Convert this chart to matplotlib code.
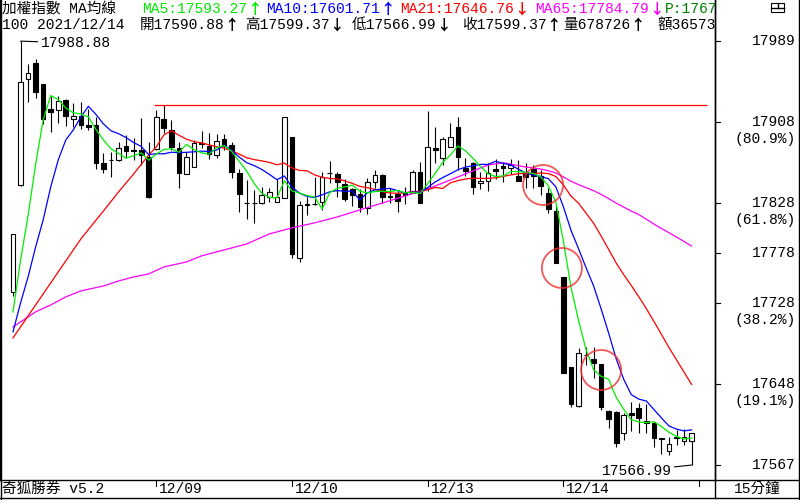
import numpy as np
import matplotlib
matplotlib.use("Agg")
import matplotlib.pyplot as plt
from matplotlib.patches import Ellipse, Rectangle
from matplotlib.lines import Line2D
from matplotlib.transforms import blended_transform_factory

plt.rcParams['font.family'] = ['Liberation Mono', 'Noto Sans CJK TC', 'DejaVu Sans']

# 15-minute bars, 2021/12/08 .. 2021/12/14
opens = [17739.3, 17845.7, 17951.2, 17967.1, 17946.2, 17921.3, 17920.4, 17930.3, 17911.4, 17914.4,
         17905.4, 17905.4, 17867.6, 17870.6, 17870.6, 17884.5, 17880.6, 17880.6, 17873.6, 17881.5,
         17911.4, 17900.5, 17882.5, 17856.7, 17863.6, 17887.5, 17884.5, 17875.6, 17891.5, 17885.5,
         17857.7, 17827.8, 17827.8, 17827.8, 17833.8, 17828.8, 17832.8, 17893.5, 17773.1, 17826.8,
         17826.8, 17828.8, 17857.7, 17856.7, 17846.7, 17841.7, 17836.8, 17822.8, 17848.7, 17855.7,
         17834.8, 17836.8, 17837.8, 17837.8, 17858.7, 17842.7, 17882.5, 17872.6, 17883.5, 17903.4,
         17862.6, 17867.6, 17847.7, 17849.7, 17861.6, 17864.6, 17862.6, 17854.7, 17857.7, 17861.6,
         17854.7, 17837.8, 17819.9, 17754.2, 17664.6, 17625.8, 17676.6, 17672.6, 17667.6, 17620.9,
         17619.9, 17599.0, 17618.9, 17623.8, 17610.9, 17608.9, 17594.0, 17581.1, 17595.0, 17591.0,
         17590.88]
highs = [17797.0, 17988.88, 17966.1, 17971.1, 17946.2, 17934.3, 17934.3, 17931.3, 17927.3, 17928.3,
         17921.3, 17913.4, 17877.6, 17878.6, 17888.5, 17895.5, 17892.5, 17912.4, 17888.5, 17920.4,
         17925.3, 17910.4, 17888.5, 17878.6, 17890.5, 17899.5, 17897.5, 17896.5, 17896.5, 17888.5,
         17861.6, 17850.7, 17840.7, 17843.7, 17842.7, 17851.7, 17913.4, 17893.5, 17829.8, 17833.8,
         17853.7, 17858.7, 17869.6, 17858.7, 17851.7, 17842.7, 17841.7, 17852.7, 17860.7, 17856.7,
         17842.7, 17839.7, 17843.7, 17860.7, 17868.6, 17919.4, 17903.4, 17893.5, 17907.4, 17913.4,
         17872.6, 17868.6, 17858.7, 17867.6, 17871.6, 17868.6, 17871.6, 17870.6, 17867.6, 17865.6,
         17860.7, 17842.7, 17825.8, 17754.2, 17664.6, 17683.5, 17684.5, 17684.5, 17667.6, 17621.8,
         17620.9, 17618.9, 17629.8, 17628.8, 17627.8, 17609.9, 17594.0, 17595.0, 17602.0, 17603.0,
         17599.37]
lows = [17735.3, 17845.0, 17928.3, 17932.3, 17906.4, 17898.5, 17907.4, 17904.4, 17903.4, 17901.5,
        17900.5, 17861.6, 17857.7, 17853.7, 17869.6, 17872.6, 17870.6, 17865.6, 17832.8, 17880.6,
        17897.5, 17880.6, 17842.7, 17856.7, 17863.6, 17882.5, 17871.6, 17872.6, 17880.6, 17852.7,
        17818.9, 17811.9, 17807.9, 17826.8, 17828.8, 17828.8, 17832.8, 17773.1, 17769.1, 17815.9,
        17825.8, 17820.9, 17847.7, 17833.8, 17829.8, 17824.8, 17818.9, 17816.9, 17842.7, 17827.8,
        17827.8, 17818.9, 17826.8, 17837.8, 17827.8, 17839.7, 17867.6, 17865.6, 17883.5, 17860.7,
        17854.7, 17836.8, 17841.7, 17839.7, 17851.7, 17848.7, 17856.7, 17849.7, 17842.7, 17842.7,
        17835.8, 17817.9, 17768.1, 17658.7, 17624.8, 17624.8, 17666.6, 17653.7, 17621.8, 17603.9,
        17585.0, 17592.0, 17601.0, 17599.0, 17599.0, 17585.0, 17578.1, 17577.0, 17587.0, 17587.0,
        17566.99]
closes = [17797.0, 17948.2, 17957.2, 17938.3, 17911.4, 17918.4, 17929.3, 17914.4, 17914.4, 17905.4,
          17903.4, 17867.6, 17861.6, 17870.6, 17882.5, 17879.6, 17880.0, 17875.6, 17833.8, 17913.4,
          17902.4, 17883.5, 17857.7, 17873.6, 17887.5, 17886.5, 17876.6, 17889.5, 17884.5, 17858.7,
          17836.8, 17827.8, 17827.8, 17835.8, 17838.8, 17833.8, 17913.4, 17777.1, 17825.8, 17825.8,
          17826.8, 17853.7, 17857.7, 17848.7, 17831.8, 17835.8, 17823.8, 17848.7, 17855.7, 17833.8,
          17833.8, 17829.8, 17835.8, 17858.7, 17827.8, 17883.5, 17880.6, 17891.5, 17893.5, 17873.6,
          17859.7, 17843.7, 17849.7, 17857.7, 17859.7, 17862.6, 17865.6, 17849.7, 17853.7, 17854.7,
          17844.7, 17821.8, 17768.1, 17658.7, 17627.8, 17678.6, 17676.6, 17668.6, 17624.8, 17612.9,
          17589.0, 17616.9, 17616.9, 17613.9, 17608.9, 17594.0, 17593.0, 17588.0, 17594.0, 17595.0,
          17599.37]

day_ticks = [19, 37, 55, 73, 91]
day_labels = ["12/09", "12/10", "12/13", "12/14", ""]

# moving-average values before enough bars are on screen
ma5_head = [17719.4, 17770.8, 17815.2, 17866.3]
ma10_head = [17699.5, 17728.3, 17754.2, 17784.0, 17810.9, 17843.7, 17870.6, 17890.5, 17900.5]
ma21_head_idx = [0, 3, 6, 9, 12, 14, 16, 18, 19]
ma21_head = [17693.5, 17726.3, 17759.2, 17792.0, 17819.9, 17838.8, 17856.7, 17875.6, 17883.5]
ma65_head_idx = [0, 3, 5, 7, 9, 12, 14, 16, 18, 20, 23, 25, 28, 31, 34, 37, 40, 43, 46, 49,
                 52, 55, 58, 61, 63]
ma65_head = [17704.4, 17719.4, 17726.3, 17734.3, 17740.3, 17745.2, 17750.2, 17754.2, 17757.2,
             17764.1, 17769.1, 17775.1, 17781.1, 17787.0, 17797.0, 17803.0, 17808.0, 17813.9,
             17820.9, 17827.8, 17834.8, 17841.7, 17850.7, 17859.7, 17865.6]

fib_ratios = [1.0, 0.809, 0.618, 0.5, 0.382, 0.191, 0.0]
fib_notes = ["", "(80.9%)", "(61.8%)", "", "(38.2%)", "(19.1%)", ""]

# hand drawn red circles (bar index, price)
circle_marks = [(70.3, 17845.7), (72.8, 17763.1), (78.0, 17661.6)]

# header pieces: text, arrow, colour, left pixel
header1 = [("加權指數 MA均線", "", "black", 2), ("MA5:17593.27", "↑", "#00e600", 142),
           ("MA10:17601.71", "↑", "#0000ff", 266), ("MA21:17646.76", "↓", "#ff0000", 400),
           ("MA65:17784.79", "↓", "#ff00ff", 535), ("P:17673", "", "#008000", 665)]
header2 = [("100 2021/12/14", "", 2), ("開17590.88", "↑", 140), ("高17599.37", "↓", 245),
           ("低17566.99", "↓", 352), ("收17599.37", "↑", 462), ("量678726", "↑", 563),
           ("額3657321", "", 657)]


def rolling_mean(vals, n):
    return np.convolve(vals, np.ones(n) / n, mode='valid')


o = np.array(opens)
h = np.array(highs)
l = np.array(lows)
c = np.array(closes)
idx = np.arange(len(c))

fig = plt.figure(figsize=(8, 5), dpi=100)
fig.patch.set_facecolor('white')
ax = fig.add_axes([0, 20 / 500, 715 / 800, 480 / 500])
step = 7.54
ax.set_xlim(-13 / step, (715 - 13) / step)
ax.set_ylim(17552.1, 18029.8)
ppp = (18029.8 - 17552.1) / 480  # price per pixel
ax.set_xticks([])
ax.set_yticks([])
ax.spines['top'].set_visible(False)
for s in ['left', 'right', 'bottom']:
    ax.spines[s].set_linewidth(1.0)

# candles
up = c >= o
ax.vlines(idx, l, h, color='black', lw=0.8, zorder=2)
ax.bar(idx, np.abs(c - o), bottom=np.minimum(o, c), width=0.62,
       color=np.where(up, 'white', 'black'), edgecolor='black', linewidth=0.8, zorder=3)

# moving averages
ma5 = np.r_[ma5_head, rolling_mean(c, 5)]
ma10 = np.r_[ma10_head, rolling_mean(c, 10)]
ma21_x = ma21_head_idx + list(range(20, len(c)))
ma21 = np.r_[ma21_head, rolling_mean(c, 21)]
ma65_x = ma65_head_idx + list(range(64, len(c)))
ma65 = np.r_[ma65_head, rolling_mean(c, 65)]
ax.plot(ma65_x, ma65, color='#ff00ff', lw=0.9, zorder=4)
ax.plot(ma21_x, ma21, color='#ff0000', lw=0.9, zorder=4)
ax.plot(idx, ma10, color='#0000ff', lw=0.9, zorder=4)
ax.plot(idx, ma5, color='#00ee00', lw=0.9, zorder=4)

# high of 12/09 line
ax.hlines(h[day_ticks[0]:day_ticks[1]].max(), day_ticks[0] - 0.3, 92, color='#ff0000', lw=0.9, zorder=4)

for ci, cp in circle_marks:
    ax.add_patch(Ellipse((ci, cp), 40 / step, 40 * ppp, fill=False,
                         edgecolor='#ee3030', lw=1.3, alpha=0.8, zorder=6))

# high / low labels
hi_i = int(np.argmax(h))
lo_i = int(np.argmin(l))
ax.annotate(f"{h[hi_i]:.2f}", xy=(hi_i, h[hi_i]), xytext=(20, -2), textcoords='offset pixels',
            ha='left', va='center', fontsize=10.5,
            arrowprops=dict(arrowstyle='-', lw=0.8, color='black', shrinkA=0, shrinkB=0))
ax.annotate(f"{l[lo_i]:.2f}", xy=(lo_i, l[lo_i]), xytext=(-20, -6), textcoords='offset pixels',
            ha='right', va='center', fontsize=10.5,
            arrowprops=dict(arrowstyle='-', lw=0.8, color='black', shrinkA=0, shrinkB=0))


# header lines (clipped at the price panel)
def header_piece(px, py, s, arrow, col):
    t = ax.text(px / 715, 1 - py / 480, s, transform=ax.transAxes, color=col, fontsize=10.5,
                ha='left', va='center', clip_on=True)
    if arrow:
        a = ax.annotate(arrow, xy=(1, 0.5), xycoords=t, ha='left', va='center', color=col,
                        fontsize=10.5, family=['Noto Sans CJK TC'], fontweight='bold')
        a.set_clip_on(True)


for s, arr, col, px in header1:
    header_piece(px, 9, s, arr, col)
for s, arr, px in header2:
    header_piece(px, 25, s, arr, 'black')

# right price scale with fibonacci levels
ytrans = blended_transform_factory(ax.transAxes, ax.transData)
hi, lo = h.max(), l.min()
for r, note in zip(fib_ratios, fib_notes):
    p = lo + r * (hi - lo)
    ax.plot([1.0, 1.0 + 5 / 715], [p, p], color='black', lw=0.8, transform=ytrans, clip_on=False)
    ax.text(796 / 715, p, f"{p:.0f}", transform=ytrans, ha='right', va='center',
            fontsize=10.5, clip_on=False)
    if note:
        ax.annotate(note, xy=(796 / 715, p), xycoords=ytrans, xytext=(0, -17),
                    textcoords='offset pixels', ha='right', va='center', fontsize=10.5,
                    annotation_clip=False)

# date axis
xtrans = blended_transform_factory(ax.transData, ax.transAxes)
for t, lab in zip(day_ticks, day_labels):
    ax.plot([t, t], [0, -6 / 480], color='black', lw=0.8, transform=xtrans, clip_on=False)
    if lab:
        ax.annotate(lab, xy=(t, 0), xycoords=xtrans, xytext=(3, -9), textcoords='offset pixels',
                    ha='left', va='center', fontsize=10.5, annotation_clip=False)

fig.text(2 / 800, 1 - 489 / 500, "奇狐勝券 v5.2", ha='left', va='center', fontsize=10.5)
fig.text(757 / 800, 1 - 489 / 500, "15分鐘", ha='center', va='center', fontsize=10.5)


# frame lines
def fline(x1, y1, x2, y2):
    fig.add_artist(Line2D([x1 / 800, x2 / 800], [1 - y1 / 500, 1 - y2 / 500],
                          transform=fig.transFigure, color='black', lw=1.0))


fline(0.7, 0, 0.7, 500)
fline(798.5, 0, 798.5, 500)
fline(0, 497.5, 800, 497.5)
fline(715, 480, 800, 480)
fline(715, 0, 715, 498)

# window icon at top right
fig.add_artist(Rectangle((771 / 800, 1 - 12 / 500), 13 / 800, 9 / 500, fill=False,
                         transform=fig.transFigure, lw=0.8, edgecolor='black'))
fline(771, 7.5, 784, 7.5)
fline(777.5, 3, 777.5, 7.5)

fig.savefig("out.png", dpi=100)
